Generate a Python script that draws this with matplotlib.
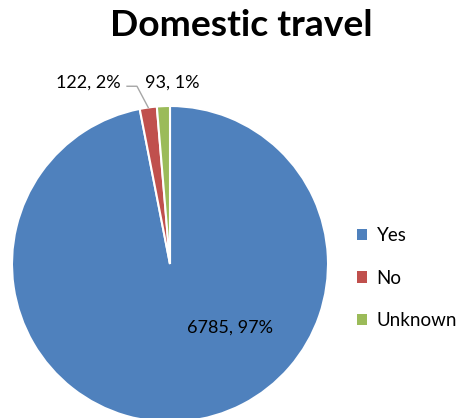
import numpy as np
import matplotlib.pyplot as plt
from matplotlib.patches import Patch

categories = ["Yes", "No", "Unknown"]
counts = [6785, 122, 93]
colors = ["#4F81BD", "#C0504D", "#9BBB59"]

plt.rcParams['font.family'] = ['Lato', 'DejaVu Sans']

W, H = 464, 418
fig = plt.figure(figsize=(W / 100, H / 100), dpi=100)

# pie centre ~ (170, 264) px, radius ~158 px
cx, cy, r = 170, 264, 158
ax = fig.add_axes([(cx - r) / W, (H - cy - r) / H, 2 * r / W, 2 * r / H])
wedges, _ = ax.pie(counts, colors=colors, startangle=90, counterclock=False,
                   wedgeprops=dict(edgecolor="white", linewidth=1.5))
ax.set_xlim(-1, 1)
ax.set_ylim(-1, 1)
ax.set_aspect("equal")
ax.axis("off")

total = sum(counts)
pct = [round(c / total * 100) for c in counts]
labels = [f"{c}, {p}%" for c, p in zip(counts, pct)]

# Yes label inside
ax.text(0.38, -0.40, labels[0], ha="center", va="center", fontsize=13)

# No label with leader line (label -> short horizontal -> slice edge)
w = wedges[1]
mid = np.deg2rad((w.theta1 + w.theta2) / 2)
ax.text(-0.31, 1.15, labels[1], ha="right", va="center", fontsize=13)
ax.plot([-0.272, -0.209, np.cos(mid)], [1.125, 1.125, np.sin(mid)],
        color="#A6A6A6", lw=1, clip_on=False)

# Unknown label
ax.text(-0.16, 1.15, labels[2], ha="left", va="center", fontsize=13)

fig.text(241 / W, 1 - 26 / H, "Domestic travel", ha="center", va="center",
         fontsize=26.8, fontweight="bold")

handles = [Patch(facecolor=c, edgecolor="none") for c in colors]
fig.legend(handles, categories, loc="center left", bbox_to_anchor=(340 / W, 1 - 278 / H),
           frameon=False, fontsize=13.5, handlelength=0.55, handleheight=0.55,
           handletextpad=0.5, labelspacing=1.35)

fig.savefig("out.png", dpi=100)
